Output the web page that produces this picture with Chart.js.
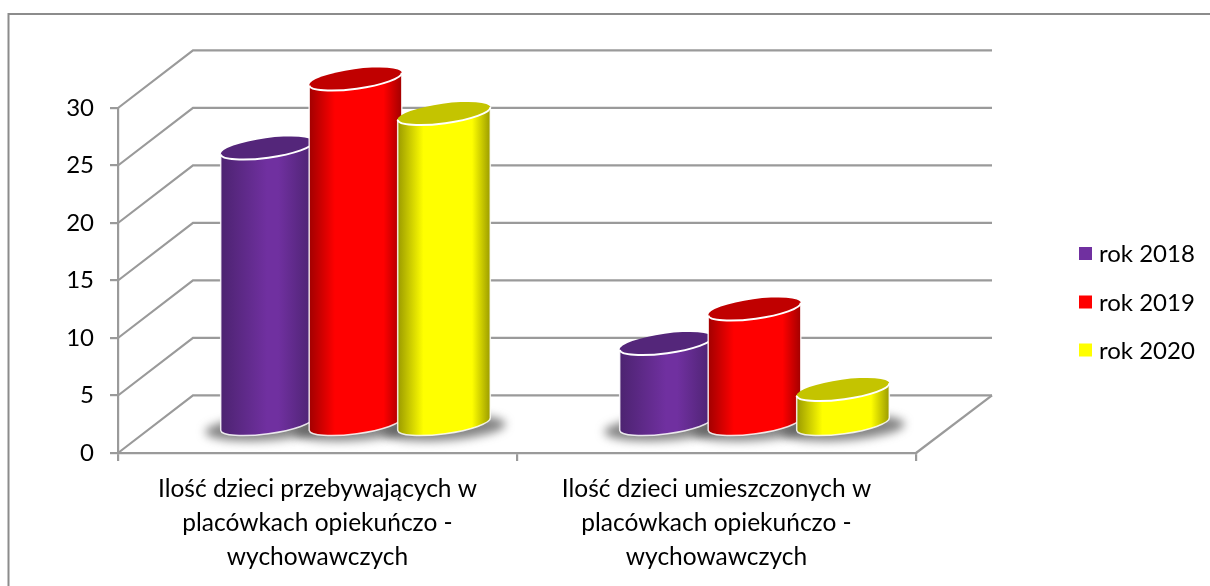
<!DOCTYPE html>
<html>
<head>
<meta charset="utf-8">
<style>html,body{margin:0;padding:0;background:#fff}canvas{display:block}</style>
<script src="https://cdn.jsdelivr.net/npm/chart.js@4"></script>
</head>
<body>
<canvas id="c" width="1210" height="586"></canvas>
<script>
const categories = [
  ["Ilość dzieci przebywających w", "placówkach opiekuńczo -", "wychowawczych"],
  ["Ilość dzieci umieszczonych w", "placówkach opiekuńczo -", "wychowawczych"]
];
const rok2018 = [24, 7];
const rok2019 = [30, 10];
const rok2020 = [27, 3];
const seriesNames = ["rok 2018", "rok 2019", "rok 2020"];
const seriesColors = ["#7030a0", "#ff0000", "#ffff00"];
const edgeColors = ["#4c2370", "#a00000", "#999900"];
const topColors = ["#54267a", "#c00000", "#c4c400"];

const GRID = "#9a9a9a", DX = 75, DY = 57.7, MX = 38, MY = 29;
const FONT = "24px Lato", INK = "#000";

const scene = {
  id: "scene",
  beforeDraw(chart) {
    const { ctx, scales: { x, y } } = chart;
    ctx.save();
    ctx.strokeStyle = "#8c8c8c"; ctx.lineWidth = 2;
    ctx.beginPath(); ctx.moveTo(8.5, 586); ctx.lineTo(8.5, 14); ctx.lineTo(1210, 14); ctx.stroke();
    ctx.strokeStyle = GRID; ctx.lineWidth = 2.2;
    y.ticks.forEach(t => {
      const py = y.getPixelForValue(t.value);
      ctx.beginPath();
      ctx.moveTo(x.left, py); ctx.lineTo(x.left + DX, py - DY); ctx.lineTo(x.right + DX + 1, py - DY);
      ctx.stroke();
    });
    ctx.beginPath();
    ctx.moveTo(x.right, y.bottom); ctx.lineTo(x.right + DX + 1, y.bottom - DY);
    ctx.stroke();
    ctx.restore();
  },
  beforeDatasetsDraw(chart) {
    const { ctx, scales: { y } } = chart;
    const base = y.getPixelForValue(0) - MY;
    const tilt = -0.135;
    const metas = chart.data.datasets.map((d, i) => chart.getDatasetMeta(i));
    ctx.save();
    ctx.filter = "blur(5px)";
    ctx.fillStyle = "rgba(80,80,80,0.7)";
    metas.forEach(m => m.data.forEach(b => {
      const r = b.width * 0.528;
      ctx.beginPath();
      ctx.ellipse(b.x + MX, base + 4, r + 15, 12.5, tilt / 2, 0, Math.PI * 2);
      ctx.fill();
    }));
    ctx.restore();
    metas.forEach((m, i) => m.data.forEach(b => {
      const cx = b.x + MX, top = b.y - MY, r = b.width * 0.528, ry = 9.8;
      const ex = r * Math.cos(tilt), ey = r * Math.sin(tilt);
      const g = ctx.createLinearGradient(cx - r, 0, cx + r, 0);
      g.addColorStop(0, edgeColors[i]);
      if (i === 0) {
        g.addColorStop(0.5, seriesColors[i]);
        g.addColorStop(0.62, seriesColors[i]);
      } else {
        g.addColorStop(0.28, seriesColors[i]);
        g.addColorStop(0.8, seriesColors[i]);
      }
      g.addColorStop(1, edgeColors[i]);
      ctx.save();
      ctx.beginPath();
      ctx.moveTo(cx - ex, top - ey);
      ctx.ellipse(cx, base, r, ry, tilt, Math.PI, 0, true);
      ctx.lineTo(cx + ex, top + ey);
      ctx.closePath();
      ctx.fillStyle = g; ctx.fill();
      ctx.lineJoin = "round";
      ctx.strokeStyle = "rgba(255,255,255,0.85)"; ctx.lineWidth = 1.5; ctx.stroke();
      ctx.beginPath();
      ctx.ellipse(cx, top, r, ry, tilt, 0, Math.PI * 2);
      ctx.fillStyle = topColors[i]; ctx.fill();
      ctx.beginPath();
      ctx.ellipse(cx, top, r, ry, tilt, 0, Math.PI);
      ctx.strokeStyle = "#fff"; ctx.lineWidth = 2; ctx.stroke();
      ctx.restore();
    }));
    return false;
  },
  afterDraw(chart) {
    const { ctx } = chart;
    ctx.save();
    ctx.font = FONT; ctx.textBaseline = "middle"; ctx.textAlign = "left";
    const rows = [253.5, 302, 350];
    chart.data.datasets.forEach((d, i) => {
      ctx.fillStyle = d.backgroundColor;
      ctx.fillRect(1079, rows[i] - 6.5, 13, 13);
      ctx.fillStyle = INK;
      ctx.fillText(d.label, 1099, rows[i] + 1);
    });
    ctx.restore();
  }
};

new Chart(document.getElementById("c"), {
  type: "bar",
  data: {
    labels: categories,
    datasets: [
      { label: seriesNames[0], data: rok2018, backgroundColor: seriesColors[0] },
      { label: seriesNames[1], data: rok2019, backgroundColor: seriesColors[1] },
      { label: seriesNames[2], data: rok2020, backgroundColor: seriesColors[2] }
    ]
  },
  options: {
    responsive: false,
    animation: false,
    layout: { padding: { left: 0, top: 108, right: 294, bottom: 0 } },
    datasets: { bar: { categoryPercentage: 0.6654, barPercentage: 1 } },
    plugins: { legend: { display: false }, title: { display: false }, tooltip: { enabled: false } },
    scales: {
      x: {
        afterFit(s) { s.height = 133; },
        border: { color: GRID, width: 2.2 },
        grid: { color: GRID, lineWidth: 2.2, drawOnChartArea: false, tickLength: 8, offset: true },
        ticks: {
          color: INK, maxRotation: 0, minRotation: 0, autoSkip: false, padding: 11,
          font: { family: "Lato", size: 24.5, lineHeight: 1.39 }
        }
      },
      y: {
        min: 0, max: 30,
        afterFit(s) { s.width = 118; },
        border: { color: GRID, width: 2.2 },
        grid: { color: GRID, lineWidth: 2.2, drawOnChartArea: false, tickLength: 8 },
        ticks: { stepSize: 5, color: INK, padding: 16, font: { family: "Lato", size: 24 } }
      }
    }
  },
  plugins: [scene]
});
</script>
</body>
</html>
